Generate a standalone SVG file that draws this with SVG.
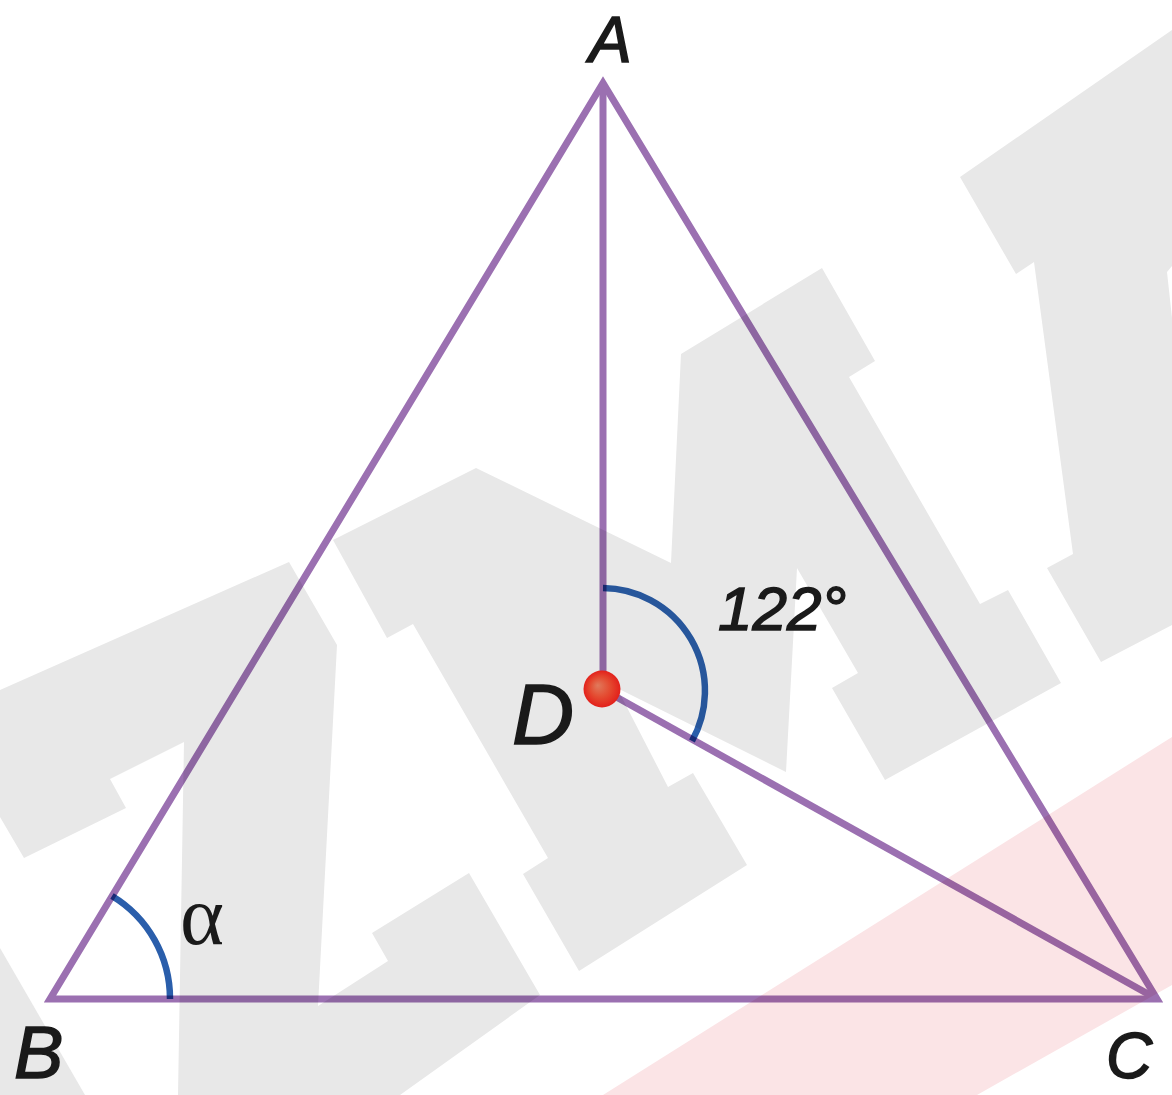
<svg xmlns="http://www.w3.org/2000/svg" width="1172" height="1095" viewBox="0 0 1172 1095">
  <defs>
    <radialGradient id="dotGrad" cx="0.5" cy="0.5" r="0.5" fx="0.38" fy="0.4">
      <stop offset="0" stop-color="#e07a5c"/>
      <stop offset="0.55" stop-color="#e44a30"/>
      <stop offset="1" stop-color="#e3201b"/>
    </radialGradient>
    <style>
      .wm-gray { fill: #e8e8e8; }
      .wm-pink { fill: #fbe4e6; }
      .edge { fill: none; stroke: #9b70b1; stroke-width: 7; stroke-linejoin: miter; stroke-miterlimit: 10; }
      .arc { fill: none; stroke: #2a5eab; stroke-width: 6.5; }
      .lbl { font-family: "Liberation Sans", "DejaVu Sans", sans-serif; font-style: italic; fill: #1a1a1a; stroke: #1a1a1a; stroke-width: 1.5; }
      .greek { font-family: "Liberation Serif", "DejaVu Serif", serif; fill: #1a1a1a; }
    </style>
  </defs>

  <rect x="0" y="0" width="1172" height="1095" fill="#ffffff"/>

  <g id="watermark">
    <polygon class="wm-gray" points="0,690 289,562 337,645 318,1006 388,961 372,933 469,873 540,995 400,1095 178,1095 184,742 110,779 126,808 24,858 0,817"/>
    <polygon class="wm-gray" points="0,948 85,1095 0,1095"/>
    <polygon class="wm-gray" points="333,540 476,468 671,563 681,354 822,268 875,361 849,377 980,604 1008,590 1061,683 885,780 832,688 858,673 797,568 786,772 617,688 668,787 693,773 747,865 579,971 523,874 548,858 413,624 387,638"/>
    <polygon class="wm-gray" points="960,177 1172,30 1172,266 1167,272 1172,318 1172,625 1101,662 1047,568 1073,554 1034,262 1016,274"/>
    <polygon class="wm-pink" points="603,1095 1172,737 1172,985 977,1095"/>
  </g>

  <g id="connectors" style="mix-blend-mode:multiply">
    <polygon id="triangle-ABC" class="edge" points="603,83 50,999 1157,999"/>
    <line id="edge-AD" class="edge" x1="603" y1="83" x2="603" y2="689"/>
    <line id="edge-DC" class="edge" x1="602" y1="689" x2="1157" y2="999"/>
  </g>

  <g id="angles" style="mix-blend-mode:multiply">
    <path id="angle-ADC" class="arc" d="M 603 588 A 103 103 0 0 1 692 741"/>
    <path id="angle-B" class="arc" d="M 112 896 A 120 120 0 0 1 170 999"/>
  </g>

  <g id="node-A">
    <text class="lbl" x="589" y="62" font-size="64">A</text>
  </g>
  <g id="node-B">
    <text class="lbl" x="14" y="1078" font-size="74">B</text>
  </g>
  <g id="node-C">
    <text class="lbl" x="1106" y="1078" font-size="64">C</text>
  </g>
  <g id="node-D">
    <circle cx="602" cy="689" r="18.5" fill="url(#dotGrad)"/>
    <text class="lbl" x="512" y="744" font-size="86">D</text>
  </g>
  <g id="labels">
    <text id="label-122" class="lbl" x="718" y="630" font-size="62">122°</text>
    <text id="label-alpha" class="greek" x="180" y="944" font-size="84">α</text>
  </g>
</svg>
